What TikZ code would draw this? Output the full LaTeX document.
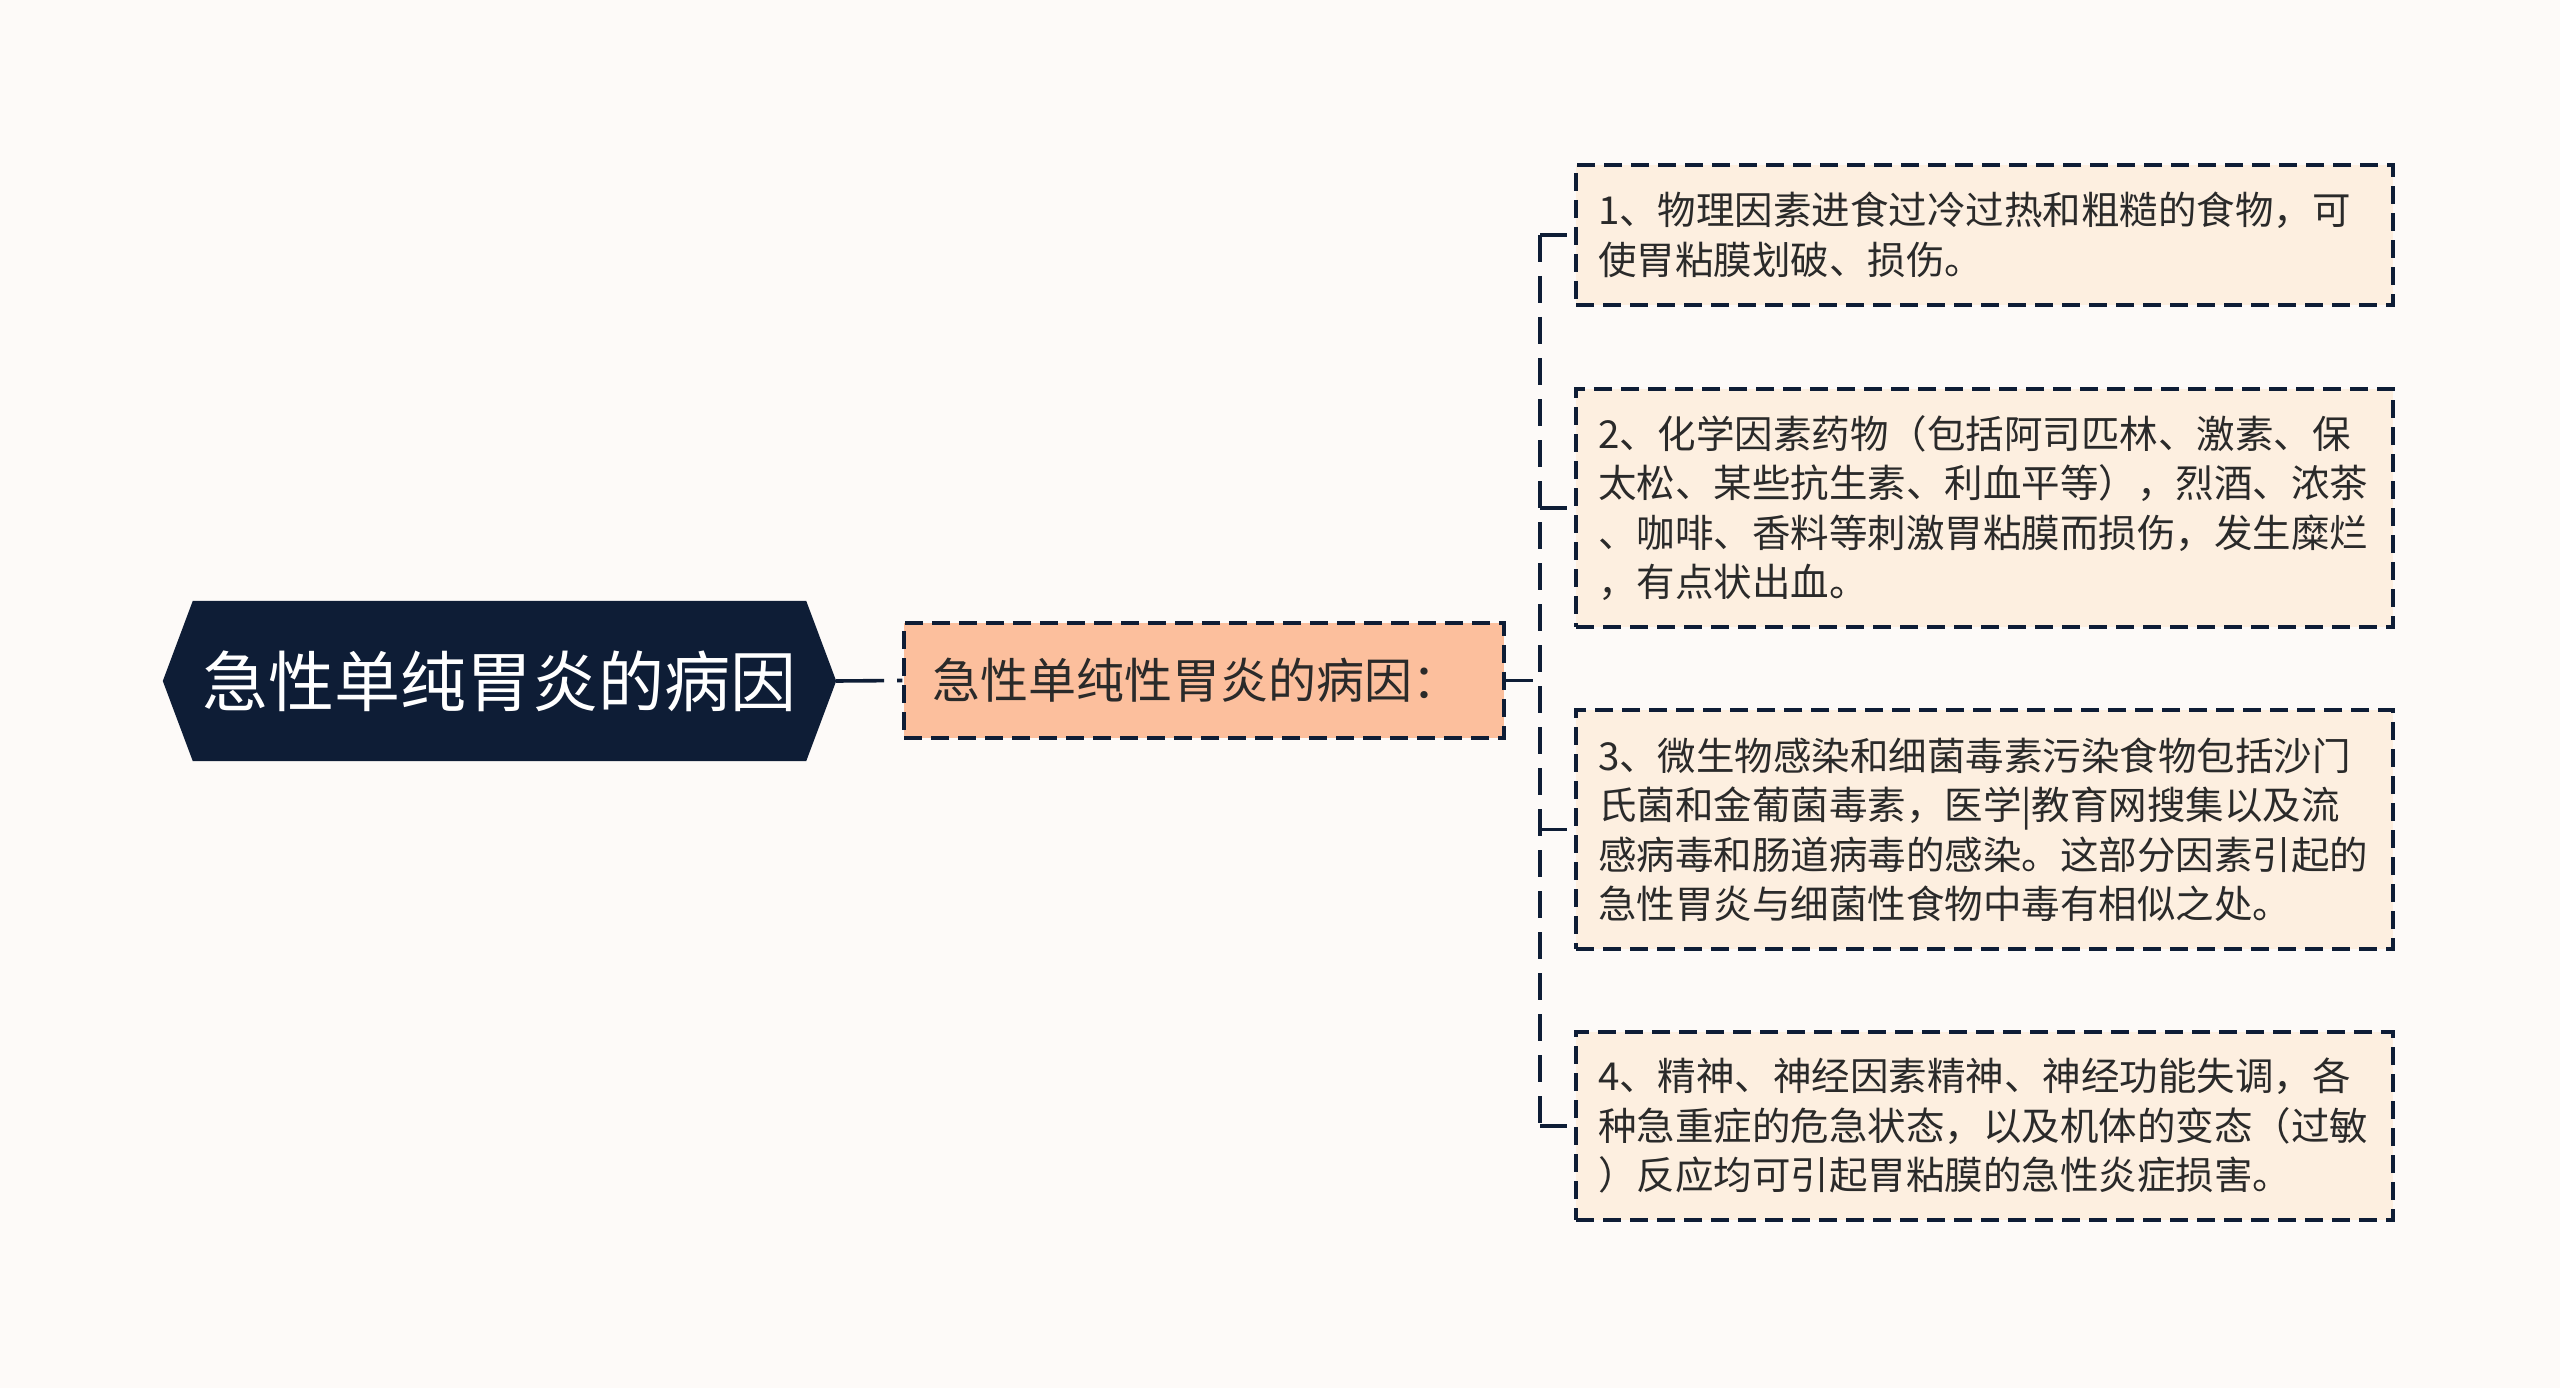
\documentclass[tikz,border=0pt]{standalone}
\usepackage{fontspec}
\newfontfamily\cjk{Noto Sans CJK SC}
\pgfdeclarelayer{bg}
\pgfsetlayers{bg,main}
\definecolor{pagebg}{HTML}{FDFAF8}
\definecolor{navy}{HTML}{0E1D36}
\definecolor{midfill}{HTML}{FCBF9D}
\definecolor{leaffill}{HTML}{FDEFE0}
\definecolor{txt}{HTML}{2A2A2A}
\tikzset{
  rootnode/.style={minimum width=673pt, minimum height=160pt, inner sep=0pt, text=white,
    font=\cjk\fontsize{66}{66}\selectfont},
  midnode/.style={draw=navy, line width=3.4pt, dash pattern=on 18pt off 9pt, fill=midfill,
    minimum width=600pt, minimum height=115pt, text width=544pt, align=left, inner sep=0pt,
    text=txt, font=\cjk\fontsize{48}{56}\selectfont},
  leafnode/.style={draw=navy, line width=3.4pt, dash pattern=on 18pt off 9pt, fill=leaffill,
    minimum width=817pt, text width=773pt, align=left, inner sep=0pt,
    text=txt, font=\cjk\fontsize{38.5}{49.5}\selectfont},
  link/.style={draw=navy, line width=3.6pt, dash pattern=on 27pt off 14pt},
}
\begin{document}
\begin{tikzpicture}[x=1pt,y=-1pt]
\begin{pgfonlayer}{bg}
\fill[pagebg] (0,0) rectangle (2560,1388);
\end{pgfonlayer}
\useasboundingbox (0,0) rectangle (2560,1388);

\node[rootnode] (root) at (499.5,681) {急性单纯胃炎的病因};
\begin{pgfonlayer}{bg}
\fill[navy] ([xshift=30pt]root.north west) -- ([xshift=-30pt]root.north east) -- (root.east)
  -- ([xshift=-30pt]root.south east) -- ([xshift=30pt]root.south west) -- (root.west) -- cycle;
\end{pgfonlayer}

\node[midnode] (mid) at (1204,680.5) {急性单纯性胃炎的病因：};

\node[leafnode, minimum height=140pt] (b1) at (1984.5,235)
  {1、物理因素进食过冷过热和粗糙的食物，可\\使胃粘膜划破、损伤。};
\node[leafnode, minimum height=238pt] (b2) at (1984.5,508)
  {2、化学因素药物（包括阿司匹林、激素、保\\太松、某些抗生素、利血平等），烈酒、浓茶\\、咖啡、香料等刺激胃粘膜而损伤，发生糜烂\\，有点状出血。};
\node[leafnode, minimum height=239pt] (b3) at (1984.5,829.5)
  {3、微生物感染和细菌毒素污染食物包括沙门\\氏菌和金葡菌毒素，医学|教育网搜集以及流\\感病毒和肠道病毒的感染。这部分因素引起的\\急性胃炎与细菌性食物中毒有相似之处。};
\node[leafnode, minimum height=188pt] (b4) at (1984.5,1126)
  {4、精神、神经因素精神、神经功能失调，各\\种急重症的危急状态，以及机体的变态（过敏\\）反应均可引起胃粘膜的急性炎症损害。};

\coordinate (fork) at (1540,680.5);
\draw[link, dash pattern=on 48pt off 13pt] (root.east) -- (mid.west);
\draw[link] (mid.east) -- (fork);
\draw[link] (fork |- b1.west) -- (fork |- b4.west);
\draw[link] (fork |- b1.west) -- (b1.west);
\draw[link] (fork |- b2.west) -- (b2.west);
\draw[link] (fork |- b3.west) -- (b3.west);
\draw[link] (fork |- b4.west) -- (b4.west);
\end{tikzpicture}
\end{document}
